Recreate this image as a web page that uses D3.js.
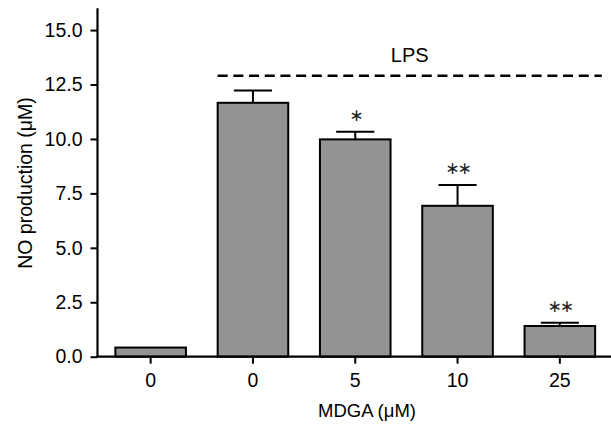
<!DOCTYPE html>
<html><head><meta charset="utf-8">
<script src="https://cdn.jsdelivr.net/npm/d3@7"></script>
<style>
html,body{margin:0;padding:0;background:#fff;}
text{font-family:"Liberation Sans",Arial,sans-serif;fill:#000;}
</style></head>
<body><svg id="c" width="611" height="430"></svg>
<script>
const categories = ["0", "0", "5", "10", "25"];
const values = [0.42, 11.66, 9.98, 6.93, 1.41];
const errors = [0, 0.57, 0.35, 0.95, 0.15];
const stars = ["", "", "*", "**", "**"];
const yTicks = [0, 2.5, 5, 7.5, 10, 12.5, 15];
const lpsLevel = 12.9;

const svg = d3.select("#c");
const x = d3.scaleBand().domain(d3.range(categories.length)).range([99.5, 611]).paddingInner(0.31).paddingOuter(0.155);
const y = d3.scaleLinear().domain([0, 16]).range([356.7, 8.3]);

// bars
svg.selectAll("rect.bar").data(values).join("rect")
  .attr("x", (d,i)=>x(i)).attr("width", x.bandwidth())
  .attr("y", d=>y(d)).attr("height", d=>y(0)-y(d))
  .attr("fill", "#939393").attr("stroke", "#000").attr("stroke-width", 2);

// error bars
const cap = x.bandwidth()*0.54;
values.forEach((v,i)=>{
  if (!errors[i]) return;
  const cx = x(i)+x.bandwidth()/2;
  svg.append("line").attr("x1",cx).attr("x2",cx).attr("y1",y(v)).attr("y2",y(v+errors[i])).attr("stroke","#000").attr("stroke-width",2);
  svg.append("line").attr("x1",cx-cap/2).attr("x2",cx+cap/2).attr("y1",y(v+errors[i])).attr("y2",y(v+errors[i])).attr("stroke","#000").attr("stroke-width",2);
  if (stars[i]) svg.append("text").attr("x",cx).attr("y",y(v+errors[i])-11)
    .attr("text-anchor","middle").style("font-family","'DejaVu Sans'").style("font-size","17px").style("letter-spacing","-2px")
    .style("fill","#222")
    .text(stars[i].replace(/\*/g,"\u2217"));
});

// axes
const yAxis = d3.axisLeft(y).tickValues(yTicks).tickFormat(d3.format(".1f")).tickSize(7).tickPadding(8);
const gy = svg.append("g").attr("transform","translate(97.5,0)").call(yAxis);
const xAxis = d3.axisBottom(x).tickFormat(i=>categories[i]).tickSize(7).tickPadding(9).tickSizeOuter(0);
const gx = svg.append("g").attr("transform",`translate(0,${y(0)})`).call(xAxis);
[gy,gx].forEach(g=>{
  g.selectAll("line").attr("stroke","#000").attr("stroke-width",2);
  g.selectAll("text").style("font-size","19.5px").style("font-family","'Liberation Sans',Arial,sans-serif");
});
gy.select(".domain").remove();
gx.select(".domain").remove();
svg.append("line").attr("x1",97.5).attr("x2",97.5).attr("y1",y.range()[1]).attr("y2",y(0)).attr("stroke","#000").attr("stroke-width",2.2);
svg.append("line").attr("x1",96.5).attr("x2",x.range()[1]).attr("y1",y(0)).attr("y2",y(0)).attr("stroke","#000").attr("stroke-width",2.2);

// LPS dashed line
const lx1 = x(1), lx2 = x(4)+x.bandwidth()+x.step()*0.065;
svg.append("line").attr("x1",lx1).attr("x2",lx2).attr("y1",y(lpsLevel)).attr("y2",y(lpsLevel))
  .attr("stroke","#000").attr("stroke-width",2.6).attr("stroke-dasharray","10,5.7");
svg.append("text").attr("x",(lx1+lx2)/2).attr("y",y(lpsLevel)-14).attr("text-anchor","middle")
  .style("font-size","20px").text("LPS");

// axis titles
svg.append("text").attr("transform","translate(32,183) rotate(-90)").attr("text-anchor","middle")
  .style("font-size","19.5px").text("NO production (\u03bcM)");
svg.append("text").attr("x",367).attr("y",417).attr("text-anchor","middle")
  .style("font-size","18.5px").text("MDGA (\u03bcM)");
</script></body></html>
